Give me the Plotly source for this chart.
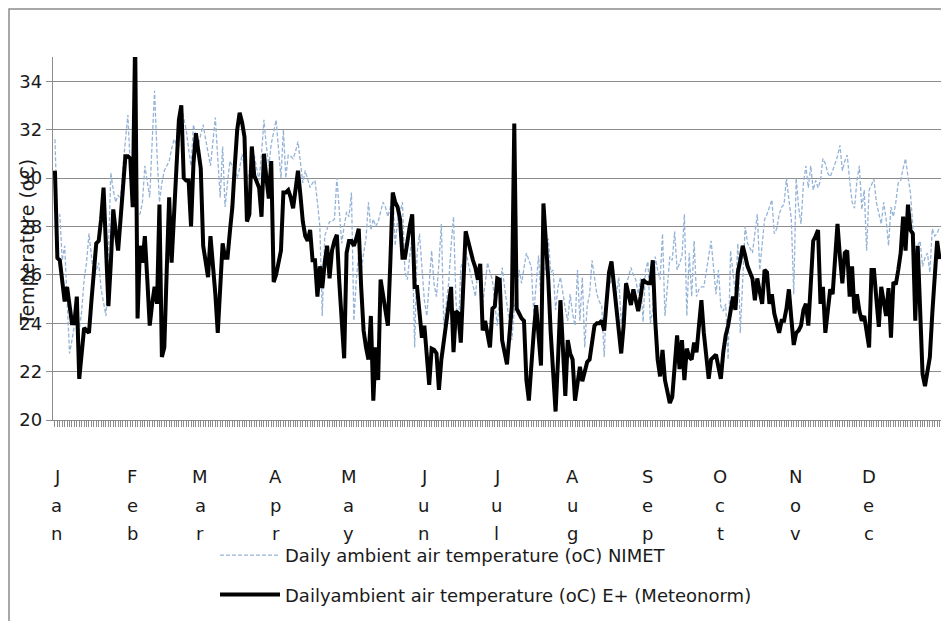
import plotly.graph_objects as go

# ---------------- data ----------------
# Daily ambient air temperature (oC) NIMET, day 1 .. day 365
nimet = [
    # Jan
    31.6, 28.3, 28.5, 26.6, 27.2, 25.0, 22.75, 23.3, 23.9, 24.2, 23.7, 24.5, 25.8, 26.5, 27.7, 26.8,
    25.8, 26.2, 26.5, 25.4, 24.8, 24.3, 27.0, 30.2, 29.5, 29.0, 29.3, 29.1, 30.5, 31.5, 32.6,
    # Feb
    30.5, 29.1, 28.8, 28.6, 28.5, 29.0, 30.5, 29.8, 29.2, 31.5, 33.6, 31.0, 29.0, 29.8, 30.3, 30.5,
    30.7, 31.2, 31.6, 31.4, 31.3, 32.95, 32.4, 32.0, 31.2, 30.5, 32.2, 31.7,
    # Mar
    31.3, 31.8, 32.2, 31.6, 31.0, 30.5, 31.5, 32.5, 30.8, 29.2, 31.3, 28.8, 29.8, 30.7, 30.5, 30.3,
    30.0, 30.4, 31.0, 30.4, 29.9, 30.3, 30.6, 30.95, 30.4, 29.9, 31.0, 32.4, 31.3, 30.5, 31.4,
    # Apr
    31.9, 32.4, 31.2, 30.0, 32.0, 30.0, 30.95, 30.9, 30.8, 31.1, 31.5, 30.6, 29.8, 30.3, 29.9, 29.6,
    29.8, 29.9, 29.0, 28.0, 24.3, 27.6, 27.9, 28.2, 28.2, 28.3, 30.0, 28.6, 27.3, 28.0,
    # May
    28.6, 28.4, 29.4, 24.1, 25.8, 26.9, 26.1, 26.9, 27.5, 29.0, 27.85, 28.3, 28.0, 28.2, 28.6, 29.0,
    28.8, 28.4, 28.8, 29.4, 27.2, 28.3, 28.6, 29.0, 26.1, 25.8, 26.8, 27.6, 23.0, 26.9, 27.7,
    # Jun
    26.4, 24.95, 24.3, 25.6, 27.0, 25.6, 25.1, 26.5, 28.1, 23.9, 24.8, 25.65, 27.2, 28.4, 24.95, 23.6,
    26.3, 26.6, 27.0, 26.5, 26.1, 25.6, 25.1, 26.2, 25.5, 24.8, 25.6, 26.5, 26.1, 25.8,
    # Jul
    24.8, 23.9, 25.0, 26.3, 25.5, 24.8, 24.0, 23.3, 24.55, 25.4, 26.2, 25.65, 26.3, 26.9, 26.6, 26.35,
    24.4, 25.6, 26.8, 24.95, 26.0, 26.35, 27.5, 26.1, 26.2, 24.55, 25.5, 25.9, 25.2, 24.6, 24.1,
    # Aug
    25.2, 24.4, 23.9, 26.2, 24.1, 25.9, 23.0, 24.7, 25.2, 26.6, 25.9, 25.2, 24.9, 24.7, 22.6, 25.1,
    25.5, 25.8, 25.5, 25.2, 25.9, 24.0, 24.8, 25.65, 25.9, 26.3, 26.0, 25.8, 25.2, 25.85, 24.05,
    # Sep
    26.2, 26.55, 24.0, 24.55, 26.75, 26.2, 25.8, 27.7, 24.3, 25.5, 26.75, 26.6, 27.8, 26.2, 26.5, 26.75,
    28.5, 24.3, 26.9, 25.1, 27.4, 25.1, 25.4, 25.5, 25.5, 26.2, 26.9, 27.4, 26.3, 25.2,
    # Oct
    26.2, 24.7, 24.5, 24.8, 22.5, 27.0, 26.1, 25.2, 27.3, 23.6, 25.8, 28.0, 27.3, 27.1, 26.9, 27.7,
    28.5, 26.2, 27.3, 28.3, 28.5, 28.8, 29.1, 27.7, 27.9, 28.5, 28.8, 28.9, 30.0, 29.1, 28.3,
    # Nov
    25.2, 30.0, 28.8, 28.1, 29.8, 30.5, 29.6, 30.5, 29.5, 29.9, 29.6, 29.9, 30.8, 30.6, 30.2, 30.05,
    30.3, 30.6, 30.9, 31.35, 30.3, 30.7, 30.95, 29.9, 29.0, 28.75, 29.9, 30.5, 28.7, 29.5,
    # Dec
    27.0, 29.5, 29.7, 29.95, 29.0, 28.5, 28.1, 29.0, 28.3, 27.2, 28.8, 28.4, 29.0, 29.8, 29.9, 30.4,
    30.8, 30.05, 29.4, 28.0, 26.9, 27.2, 27.4, 26.35, 26.7, 26.9, 26.1, 27.9, 27.6, 27.7, 28.0,
]

# Dailyambient air temperature (oC) E+ (Meteonorm), day 1 .. day 365
eplus = [
    # Jan
    30.3, 26.7, 26.6, 25.8, 24.9, 25.5, 24.6, 24.0, 24.0, 25.1, 21.7, 22.8, 23.8, 23.7, 23.6, 24.9,
    26.2, 27.3, 27.4, 28.3, 29.6, 27.0, 24.7, 26.5, 28.7, 27.8, 27.0, 28.3, 29.6, 30.9, 30.9,
    # Feb
    30.8, 28.8, 35.8, 24.2, 27.2, 26.5, 27.6, 25.8, 23.9, 24.8, 25.5, 24.8, 28.9, 22.6, 23.0, 26.2,
    29.2, 26.5, 28.6, 30.5, 32.4, 33.0, 30.0, 29.9, 29.9, 28.0, 30.6, 31.85,
    # Mar
    31.2, 30.4, 27.2, 26.4, 25.9, 27.6, 26.5, 25.2, 23.6, 25.4, 27.3, 26.7, 26.7, 27.8, 28.8, 30.5,
    32.0, 32.7, 32.3, 31.7, 28.2, 28.5, 31.3, 30.1, 29.8, 29.6, 28.4, 31.0, 30.0, 29.15, 30.7,
    # Apr
    25.7, 26.0, 26.6, 27.0, 29.4, 29.4, 29.5, 29.2, 28.75, 29.6, 30.3, 29.3, 28.2, 27.6, 27.4, 27.85,
    26.6, 26.6, 25.1, 26.35, 25.45, 26.5, 27.2, 25.85, 27.0, 27.4, 27.65, 25.7, 24.0, 22.55,
    # May
    26.9, 27.4, 27.4, 27.2, 27.5, 27.9, 25.5, 23.7, 23.0, 22.5, 24.3, 20.8, 23.0, 21.65, 25.8, 25.2,
    24.7, 23.9, 26.5, 29.4, 29.0, 28.8, 28.3, 26.7, 26.7, 27.5, 28.0, 28.5, 25.5, 25.5, 24.5,
    # Jun
    23.4, 23.9, 22.7, 21.45, 22.95, 22.9, 22.75, 21.25, 22.5, 23.3, 24.0, 24.8, 25.5, 22.8, 24.5, 24.4,
    23.2, 25.5, 27.8, 27.4, 26.9, 26.6, 26.3, 25.8, 26.45, 23.7, 24.1, 23.5, 23.0, 24.6,
    # Jul
    24.7, 25.85, 25.8, 23.3, 22.8, 22.3, 23.5, 24.7, 32.25, 24.6, 24.4, 24.2, 24.1, 21.65, 20.8, 22.5,
    23.6, 24.75, 23.5, 22.25, 28.95, 27.4, 25.8, 23.6, 22.0, 20.35, 22.5, 24.95, 23.0, 21.0, 23.3,
    # Aug
    22.75, 22.5, 20.8, 21.5, 22.2, 21.6, 22.0, 22.4, 22.5, 23.2, 23.9, 24.0, 24.0, 24.1, 23.7, 24.9,
    26.1, 26.55, 25.5, 24.6, 23.7, 22.75, 23.9, 25.65, 25.2, 24.75, 25.4, 25.0, 24.5, 25.1, 25.8,
    # Sep
    25.7, 25.65, 25.65, 26.6, 24.1, 22.5, 21.8, 22.9, 21.65, 21.2, 20.7, 20.95, 22.2, 23.5, 22.1, 23.3,
    21.65, 22.95, 22.6, 22.5, 23.2, 22.8, 23.9, 24.95, 23.6, 22.6, 21.7, 22.5, 22.6, 22.7,
    # Oct
    22.2, 21.7, 22.8, 23.5, 23.9, 24.6, 25.1, 24.55, 26.1, 26.6, 27.2, 26.8, 26.35, 26.1, 25.85, 24.95,
    25.85, 25.3, 24.8, 26.2, 26.1, 24.8, 25.2, 24.4, 24.0, 23.6, 24.1, 24.1, 24.6, 25.4, 24.2,
    # Nov
    23.1, 23.6, 23.7, 23.9, 24.55, 24.8, 23.9, 25.6, 27.4, 27.6, 27.85, 24.8, 25.5, 23.6, 24.5, 25.4,
    25.2, 26.5, 28.1, 26.75, 25.65, 26.9, 27.0, 25.1, 26.35, 24.4, 25.2, 24.5, 24.1, 24.3,
    # Dec
    23.6, 23.0, 26.2, 26.2, 25.0, 23.85, 25.5, 24.9, 24.3, 25.45, 23.4, 25.7, 25.6, 26.2, 26.9, 28.4,
    27.0, 28.9, 27.85, 27.7, 24.1, 27.2, 24.5, 21.9, 21.4, 22.0, 22.6, 24.4, 26.2, 27.4, 26.65,
]

days = list(range(len(nimet)))
month_start = [0, 31, 59, 90, 120, 151, 181, 212, 243, 273, 304, 334]
month_names = ["Jan", "Feb", "Mar", "Apr", "May", "Jun", "Jul", "Aug", "Sep", "Oct", "Nov", "Dec"]
y_ticks = [20, 22, 24, 26, 28, 30, 32, 34]

name_nimet = "Daily ambient air temperature (oC) NIMET"
name_eplus = "Dailyambient air temperature (oC) E+ (Meteonorm)"

FONT = "DejaVu Sans"
FS = 18
GRID = "#8c8c8c"
TXT = "#1a1a1a"

fig = go.Figure()
fig.add_trace(go.Scatter(
    x=days, y=nimet, mode="lines", name=name_nimet, legendgroup="a",
    line=dict(color="#95b3d7", width=1.3, dash="4px,2px"),
))
fig.add_trace(go.Scatter(
    x=days, y=eplus, mode="lines", name=name_eplus, legendgroup="b",
    line=dict(color="#000000", width=4),
))

# The page body adds an 8px offset; the geometry below is in figure pixels.
W, H = 949, 621
L, R, T, B = 45, 15, 49, 209
pw, ph = W - L - R, H - T - B
# reference-screen pixel -> paper coordinates (plot area spans x 53..942, y 57..420 on screen)
def px(xs):
    return (xs - 53) / pw
def py(ys):
    return (420 - ys) / ph

annotations = []
# month labels, letters stacked vertically
letter_y = [476, 505, 533]
for ms, mn in zip(month_start, month_names):
    for k, ch in enumerate(mn):
        annotations.append(dict(
            x=ms + 0.8, xref="x", y=py(letter_y[k]), yref="paper",
            text=ch, showarrow=False, xanchor="center", yanchor="middle",
            font=dict(family=FONT, size=FS, color=TXT),
        ))
# y-axis title (overlapping the tick labels as in the reference)
annotations.append(dict(
    x=px(27), xref="paper", y=py(243), yref="paper",
    text="Temperature (oC)", textangle=-90, showarrow=False,
    xanchor="center", yanchor="middle",
    font=dict(family=FONT, size=19, color=TXT),
))

fig.update_layout(
    width=W, height=H,
    margin=dict(l=L, r=R, t=T, b=B, autoexpand=False),
    paper_bgcolor="white", plot_bgcolor="white",
    font=dict(family=FONT, size=FS, color=TXT),
    showlegend=True,
    legend=dict(
        x=px(215), xanchor="left", y=py(537), yanchor="top",
        traceorder="grouped", tracegroupgap=13, itemwidth=60,
        font=dict(family=FONT, size=FS, color=TXT),
        bgcolor="rgba(0,0,0,0)",
    ),
    xaxis=dict(
        range=[-0.8, 365], showgrid=False, zeroline=False,
        showline=True, linecolor=GRID, linewidth=1.3,
        ticks="outside", tickmode="linear", tick0=0, dtick=1, ticklen=6,
        tickcolor=GRID, tickwidth=0.8, showticklabels=False,
    ),
    yaxis=dict(
        range=[20, 35], tickvals=y_ticks, showgrid=True, gridcolor=GRID, gridwidth=1.3,
        zeroline=False, showline=True, linecolor=GRID, linewidth=1.3,
        ticks="outside", ticklen=6, tickcolor=GRID, tickwidth=1.3,
        tickfont=dict(family=FONT, size=FS, color=TXT),
    ),
    annotations=annotations,
    shapes=[dict(
        type="rect", xref="paper", yref="paper",
        x0=px(9), x1=px(W + 30), y0=py(H + 30), y1=py(9),
        line=dict(color=GRID, width=1.5), fillcolor="rgba(0,0,0,0)", layer="below",
    )],
)

fig.write_html("out.html")
